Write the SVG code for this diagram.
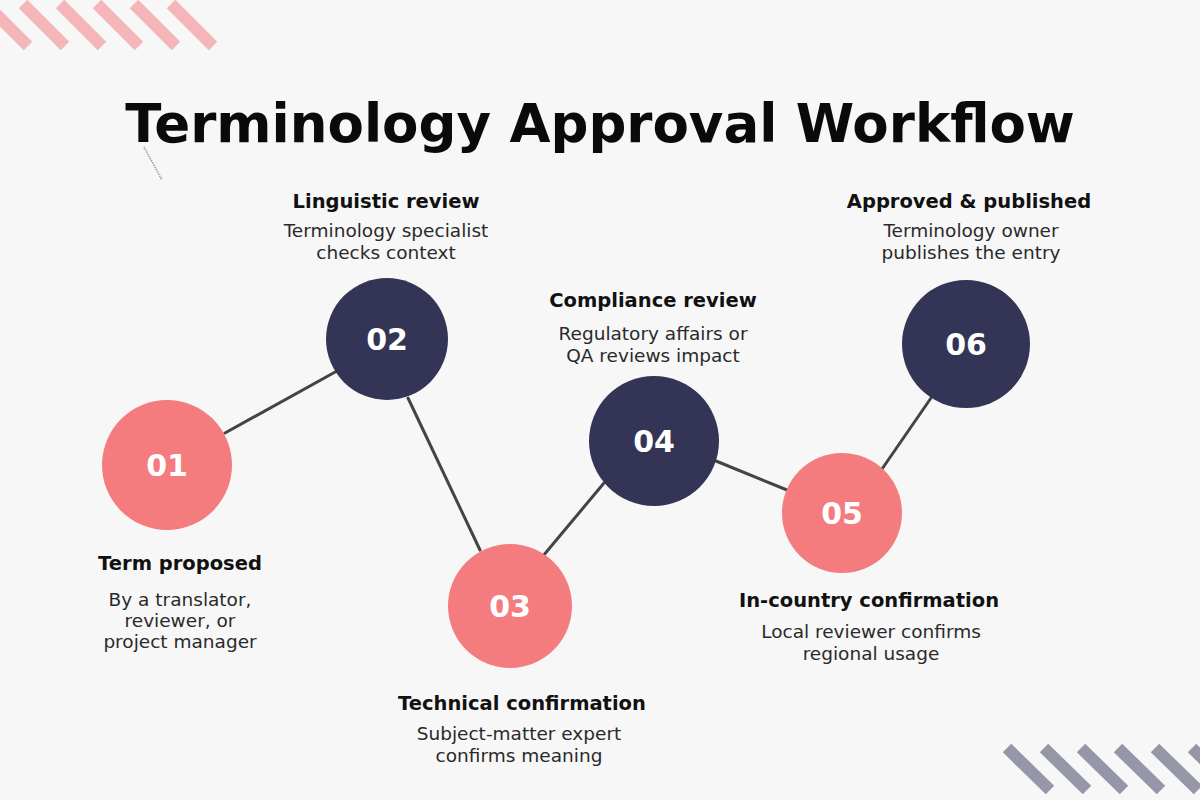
<svg xmlns="http://www.w3.org/2000/svg" width="1200" height="800" viewBox="0 0 1200 800">
<defs>
<style>
.title{font-family:"DejaVu Sans",sans-serif;font-weight:bold;font-size:53px;fill:#0a0a0a;text-anchor:middle}
.hd{font-family:"DejaVu Sans",sans-serif;font-weight:bold;font-size:19.5px;fill:#111;text-anchor:middle}
.sub{font-family:"DejaVu Sans",sans-serif;font-size:18.5px;fill:#2a2a2a;text-anchor:middle}
.num{font-family:"DejaVu Sans",sans-serif;font-weight:bold;font-size:30px;fill:#fff;text-anchor:middle}
.pink{fill:#f47c7f}
.navy{fill:#333456}
.conn line{stroke:#444;stroke-width:3;stroke-linecap:round}
.sp line{stroke:#f4b6b8;stroke-width:12}
.sg line{stroke:#9597a8;stroke-width:12}
</style>
</defs>
<rect width="1200" height="800" fill="#f7f7f7"/>
<g class="sp">
<line x1="-14" y1="4" x2="28" y2="46"/>
<line x1="23" y1="4" x2="65" y2="46"/>
<line x1="60" y1="4" x2="102" y2="46"/>
<line x1="97" y1="4" x2="139" y2="46"/>
<line x1="134" y1="4" x2="176" y2="46"/>
<line x1="171" y1="4" x2="213" y2="46"/>
</g>
<g class="sg">
<line x1="1007" y1="748" x2="1050" y2="790"/>
<line x1="1044" y1="748" x2="1087" y2="790"/>
<line x1="1081" y1="748" x2="1124" y2="790"/>
<line x1="1118" y1="748" x2="1161" y2="790"/>
<line x1="1155" y1="748" x2="1198" y2="790"/>
<line x1="1192" y1="748" x2="1235" y2="790"/>
</g>
<line x1="144" y1="147" x2="162" y2="180" stroke="#999" stroke-width="1.5" stroke-dasharray="1.5 1"/>
<text class="title" x="600" y="142">Terminology Approval Workflow</text>
<g id="connectors" class="conn">
<line x1="225" y1="433" x2="337" y2="371"/>
<line x1="408" y1="398" x2="480" y2="550"/>
<line x1="543" y1="556" x2="604" y2="483"/>
<line x1="716" y1="461" x2="787" y2="490"/>
<line x1="882" y1="469" x2="931" y2="398"/>
</g>
<g id="step01">
<circle class="pink" cx="167" cy="465" r="65"/>
<text class="num" x="167" y="476">01</text>
<text class="hd" x="180" y="570">Term proposed</text>
<text class="sub" x="180" y="606">By a translator,</text>
<text class="sub" x="180" y="627">reviewer, or</text>
<text class="sub" x="180" y="648">project manager</text>
</g>
<g id="step02">
<circle class="navy" cx="387" cy="339" r="61"/>
<text class="num" x="387" y="350">02</text>
<text class="hd" x="386" y="208">Linguistic review</text>
<text class="sub" x="386" y="237">Terminology specialist</text>
<text class="sub" x="386" y="259">checks context</text>
</g>
<g id="step03">
<circle class="pink" cx="510" cy="606" r="62"/>
<text class="num" x="510" y="617">03</text>
<text class="hd" x="522" y="710">Technical confirmation</text>
<text class="sub" x="519" y="740">Subject-matter expert</text>
<text class="sub" x="519" y="762">confirms meaning</text>
</g>
<g id="step04">
<circle class="navy" cx="654" cy="441" r="65"/>
<text class="num" x="654" y="452">04</text>
<text class="hd" x="653" y="307">Compliance review</text>
<text class="sub" x="653" y="340">Regulatory affairs or</text>
<text class="sub" x="653" y="362">QA reviews impact</text>
</g>
<g id="step05">
<circle class="pink" cx="842" cy="513" r="60"/>
<text class="num" x="842" y="524">05</text>
<text class="hd" x="869" y="607">In-country confirmation</text>
<text class="sub" x="871" y="638">Local reviewer confirms</text>
<text class="sub" x="871" y="660">regional usage</text>
</g>
<g id="step06">
<circle class="navy" cx="966" cy="344" r="64"/>
<text class="num" x="966" y="355">06</text>
<text class="hd" x="969" y="208">Approved &amp; published</text>
<text class="sub" x="971" y="237">Terminology owner</text>
<text class="sub" x="971" y="259">publishes the entry</text>
</g>
</svg>
